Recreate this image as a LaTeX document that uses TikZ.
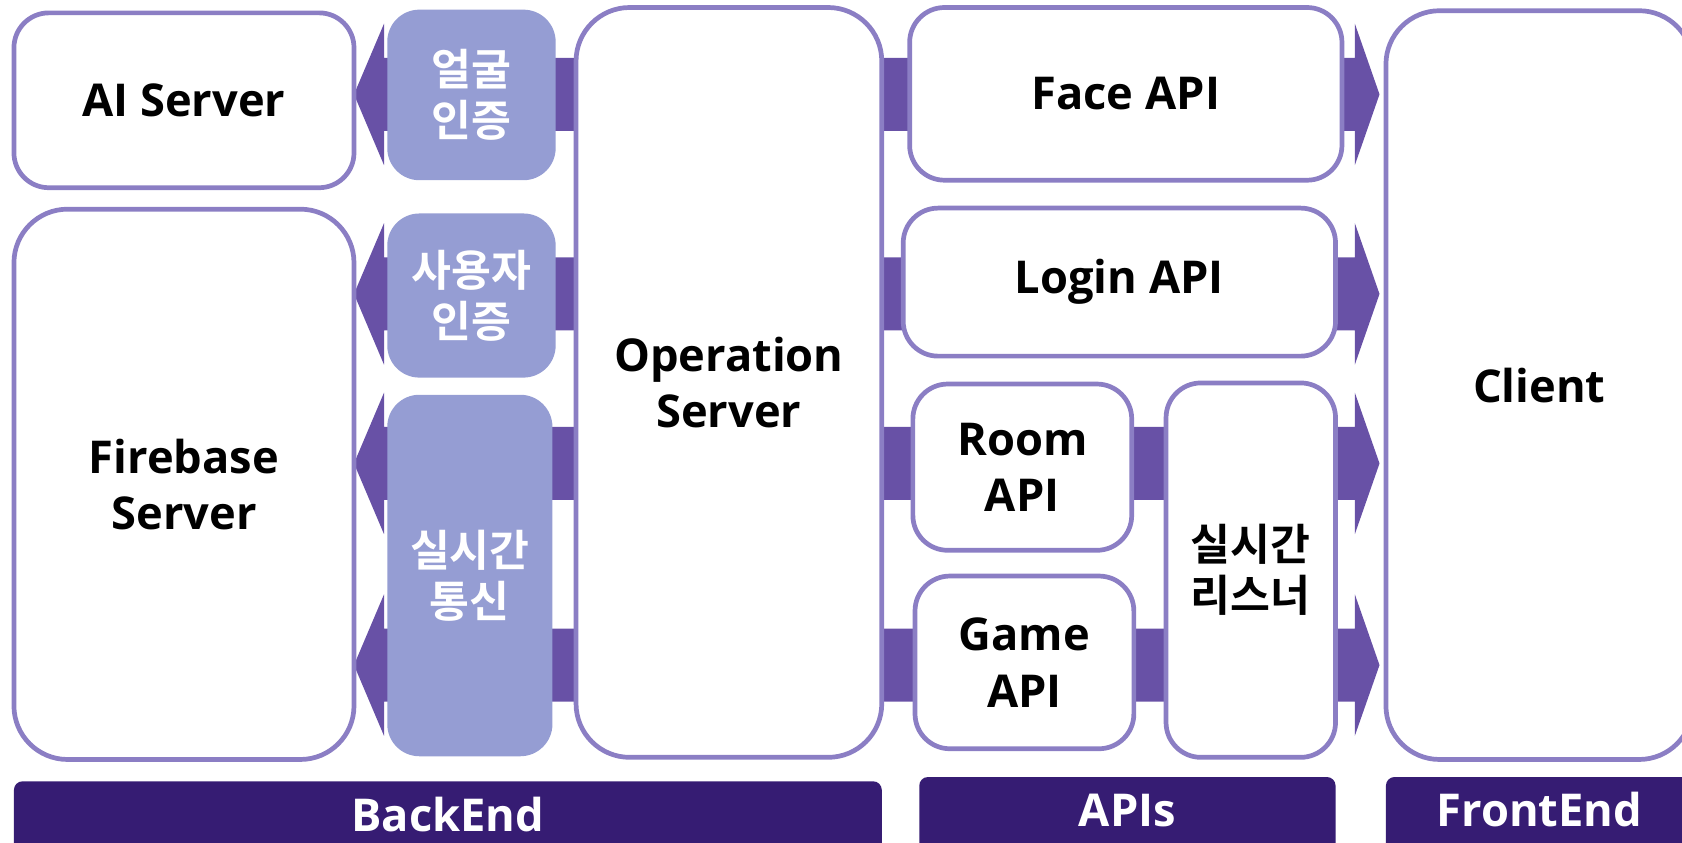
\documentclass[tikz,border=0pt]{standalone}
\usepackage{fontspec}
\setmainfont{Open Sans}
\newfontfamily\kr{Noto Sans CJK KR}[BoldFont={Noto Sans CJK KR Bold}]
\usetikzlibrary{calc, backgrounds}

\definecolor{lineviolet}{HTML}{8B7EC4}
\definecolor{tagviolet}{HTML}{959DD3}
\definecolor{bandviolet}{HTML}{6851A6}
\definecolor{barviolet}{HTML}{361C73}

\tikzset{
  box/.style={draw=lineviolet, line width=2.5pt, fill=white, rounded corners=6.5mm,
    align=center, inner sep=0pt, outer sep=0pt, font=\fontsize{24}{30}\selectfont\bfseries},
  bigbox/.style={box, rounded corners=10mm},
  krbox/.style={box, font=\fontsize{23}{27}\selectfont\kr\bfseries},
  tag/.style={fill=tagviolet, rounded corners=6mm, align=center, inner sep=0pt,
    text=white, font=\fontsize{23}{27}\selectfont\kr\bfseries},
  bar/.style={fill=barviolet, rounded corners=1.6mm, anchor=north, inner sep=0pt,
    text height=9.3mm, text depth=6mm, text=white, font=\fontsize{24}{30}\selectfont\bfseries},
  band/.style={fill=bandviolet},
}

% #1 from, #2 target
\newcommand{\bandleft}[2]{%
  \fill[band] (#2) -- ($(#2)+(28,-66)$) -- ($(#2)+(28,-34)$) -- ($(#1)+(0,-34)$)
    -- ($(#1)+(0,34)$) -- ($(#2)+(28,34)$) -- ($(#2)+(28,66)$) -- cycle;}
\newcommand{\bandright}[2]{%
  \fill[band] ($(#2)+(-6,0)$) -- ($(#2)+(-29,-66)$) -- ($(#2)+(-29,-34)$) -- ($(#1)+(0,-34)$)
    -- ($(#1)+(0,34)$) -- ($(#2)+(-29,34)$) -- ($(#2)+(-29,66)$) -- cycle;}

\begin{document}
\begin{tikzpicture}[x=0.2mm, y=-0.2mm]
    \useasboundingbox (0, 0) rectangle (1568, 785);
    \coordinate (R1) at (0, 88);
    \coordinate (R2) at (0, 274);
    \coordinate (R3) at (0, 432);
    \coordinate (R4) at (0, 620);

    % backend
    \node[box, minimum width=63.4mm, minimum height=32.6mm] (ai) at (171.5, 93.5) {AI Server};
    \node[bigbox, minimum width=63.4mm, minimum height=102.6mm] (fire) at (171.5, 451.5) {Firebase\\Server};
    \node[tag, minimum width=31.4mm, minimum height=31.8mm] (face) at (439.5, 88.5) {얼굴\\인증};
    \node[tag, minimum width=31.4mm, minimum height=30.6mm] (user) at (439.5, 275.5) {사용자\\인증};
    \node[tag, minimum width=30.8mm, minimum height=67.4mm] (live) at (438, 536.5) {실시간\\통신};
    \node[bigbox, minimum width=57mm, minimum height=139.8mm] (ops) at (679.5, 356.5) {Operation\\Server};

    % apis
    \node[box, minimum width=80.6mm, minimum height=32.2mm] (faceapi) at (1049.5, 87.5) {Face API};
    \node[box, minimum width=80.6mm, minimum height=27.6mm] (login) at (1043.5, 263) {Login API};
    \node[box, minimum width=40.8mm, minimum height=31mm] (room) at (953, 435.5) {Room\\API};
    \node[box, minimum width=40.8mm, minimum height=32.2mm] (game) at (955, 617.5) {Game\\API};
    \node[krbox, minimum width=31.6mm, minimum height=69.8mm] (listen) at (1166, 531.5) {실시간\\리스너};

    % frontend
    \node[bigbox, minimum width=57.2mm, minimum height=139.6mm] (client) at (1435, 359) {Client};

    \node[bar, minimum width=161.8mm] (backend) at (417.5, 728) {BackEnd};
    \node[bar, minimum width=77.6mm] (apis) at (1051, 724) {APIs};
    \node[bar, minimum width=57.2mm] (frontend) at (1435, 724) {FrontEnd};

    \begin{pgfonlayer}{background}
    \bandleft{ops.west |- R1}{ai.east |- R1}; % face
    \bandleft{ops.west |- R2}{fire.east |- R2}; % user
    \bandleft{ops.west |- R3}{fire.east |- R3}; % live
    \bandleft{ops.west |- R4}{fire.east |- R4};
    \bandright{ops.east |- R1}{client.west |- R1}; % face api
    \bandright{ops.east |- R2}{client.west |- R2}; % login api
    \bandright{ops.east |- R3}{client.west |- R3}; % room api
    \bandright{ops.east |- R4}{client.west |- R4}; % game api
    \end{pgfonlayer}
\end{tikzpicture}
\end{document}
